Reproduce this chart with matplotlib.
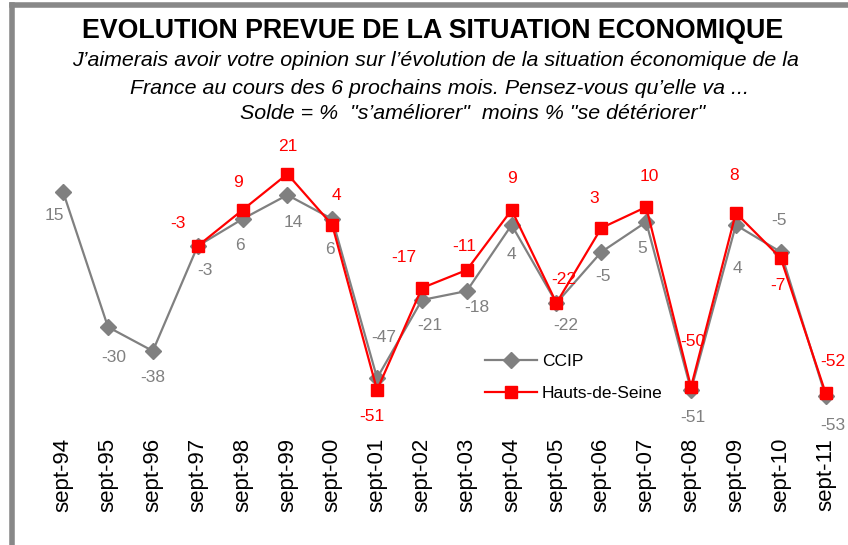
import matplotlib.pyplot as plt
from matplotlib.lines import Line2D

plt.rcParams['font.family'] = ['Liberation Sans', 'DejaVu Sans']

# Soldes d'opinion, septembre de chaque annee
annees = ["sept-94", "sept-95", "sept-96", "sept-97", "sept-98", "sept-99",
          "sept-00", "sept-01", "sept-02", "sept-03", "sept-04", "sept-05",
          "sept-06", "sept-07", "sept-08", "sept-09", "sept-10", "sept-11"]
ccip = [15, -30, -38, -3, 6, 14, 6, -47, -21, -18, 4, -22, -5, 5, -51, 4, -5, -53]
# la serie Hauts-de-Seine commence en sept-97
hds_debut = 3
hds = [-3, 9, 21, 4, -51, -17, -11, 9, -22, 3, 10, -50, 8, -7, -52]

# decalage des etiquettes (en points) pour eviter les chevauchements
off_ccip = [(-6, -17), (4, -22), (0, -19), (5, -18), (-2, -19), (4, -20),
            (-2, -22), (5, 29), (6, -18), (7, -12), (0, -21), (7, -16),
            (1, -18), (-3, -19), (1, -20), (1, -31), (-1, 23), (5, -21)]
off_hds = [(-14, 16), (-3, 20), (0, 20), (3, 21), (-4, -19), (-13, 22),
           (-2, 17), (0, 23), (5, 17), (-5, 21), (2, 22), (1, 33),
           (-1, 27), (-2, -20), (5, 23)]

GRIS = '#808080'
ROUGE = '#ff0000'

fig = plt.figure(figsize=(8.48, 5.45), dpi=100)
ax = fig.add_axes([0.048, 0.2018, 0.952, 0.5285])

x = list(range(len(annees)))
xh = x[hds_debut:]
ax.plot(x, ccip, color=GRIS, lw=1.6, marker='D', ms=8, mec=GRIS, mfc=GRIS,
        label='CCIP', zorder=2)
ax.plot(xh, hds, color=ROUGE, lw=1.6, marker='s', ms=9, mec=ROUGE, mfc=ROUGE,
        label='Hauts-de-Seine', zorder=3)

for xi, v, d in zip(x, ccip, off_ccip):
    ax.annotate(str(v), (xi, v), xytext=d, textcoords='offset points',
                ha='center', va='center', color=GRIS, fontsize=12.5)
for xi, v, d in zip(xh, hds, off_hds):
    ax.annotate(str(v), (xi, v), xytext=d, textcoords='offset points',
                ha='center', va='center', color=ROUGE, fontsize=12.5)

ax.set_xlim(-0.5, len(annees) - 0.5)
ax.set_ylim(-66, 30)
ax.set_xticks(x)
ax.set_xticklabels(annees, rotation=90, fontsize=16)
ax.tick_params(axis='x', length=0, pad=2)
ax.set_yticks([])
for s in ax.spines.values():
    s.set_visible(False)
ax.patch.set_alpha(0)

handles = [Line2D([], [], color=GRIS, lw=1.6, marker='D', ms=8),
           Line2D([], [], color=ROUGE, lw=1.6, marker='s', ms=9)]
fig.legend(handles, ['CCIP', 'Hauts-de-Seine'], loc='upper left',
           bbox_to_anchor=(0.553, 0.38), frameon=False, fontsize=12.5,
           handlelength=3.0, handletextpad=0.3, labelspacing=1.0)

# titre et question posee
fig.text(0.51, 0.944, "EVOLUTION PREVUE DE LA SITUATION ECONOMIQUE",
         ha='center', va='center', fontsize=19.3, fontweight='bold')
fig.text(0.514, 0.889, "J\u2019aimerais avoir votre opinion sur l\u2019\u00e9volution "
         "de la situation \u00e9conomique de la",
         ha='center', va='center', fontsize=15.4, style='italic')
fig.text(0.518, 0.838, "France au cours des 6 prochains mois. "
         "Pensez-vous qu\u2019elle va ...",
         ha='center', va='center', fontsize=15.4, style='italic')
fig.text(0.557, 0.792, 'Solde = %  "s\u2019am\u00e9liorer"  moins % '
         '"se d\u00e9t\u00e9riorer"',
         ha='center', va='center', fontsize=15.4, style='italic')

# cadre gris en haut et a gauche
fig.add_artist(Line2D([0.0136, 1.0], [0.991, 0.991], color='#888888', lw=4,
                      transform=fig.transFigure))
fig.add_artist(Line2D([0.0136, 0.0136], [0.0, 0.991], color='#888888', lw=4,
                      transform=fig.transFigure))

fig.savefig('out.png', dpi=100)
